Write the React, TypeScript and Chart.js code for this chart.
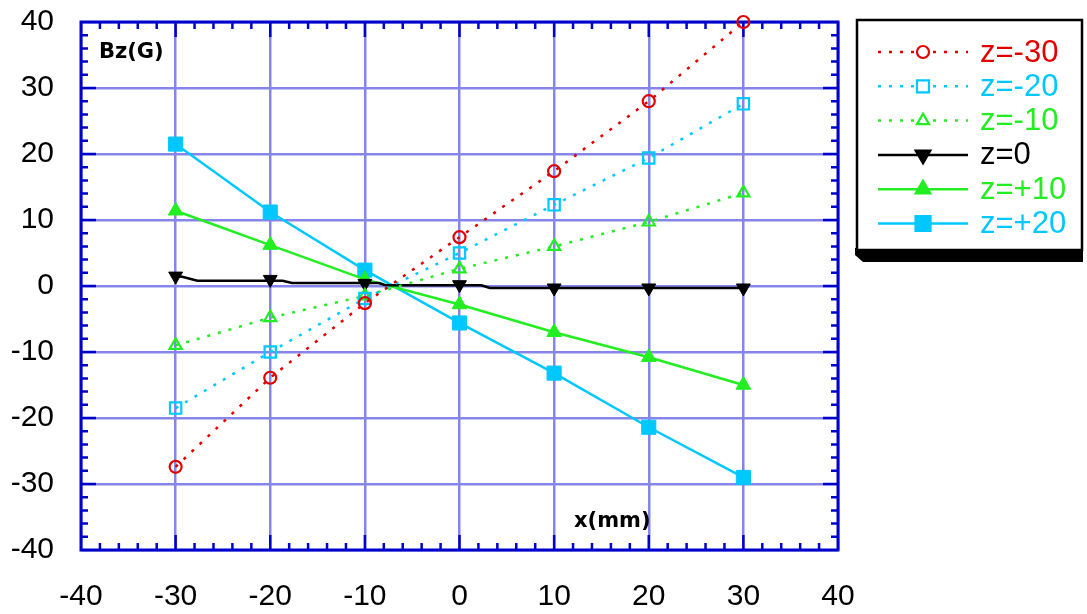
import React, { useEffect, useRef } from 'react';
import { Chart, registerables } from 'chart.js';

Chart.register(...registerables);

// ---- data ----
const xPositions = [-30, -20, -10, 0, 10, 20, 30];
const zMinus30 = [-27.4, -13.9, -2.6, 7.4, 17.4, 28, 40];
const zMinus20 = [-18.5, -10, -1.9, 5, 12.3, 19.4, 27.6];
const zMinus10 = [-9, -4.8, -1.5, 2.6, 6, 9.7, 14.1];
const zZero = [1.5, 1.0, 0.4, 0.2, -0.3, -0.3, -0.3];
const zZeroTraceX = [-30, -29.3, -27.7, -18.7, -17.7, -8.5, -7.8, 2.3, 3.2, 30];
const zZeroTraceY = [1.5, 1.4, 0.8, 0.8, 0.45, 0.45, 0.1, 0.1, -0.3, -0.3];
const zPlus10 = [11.4, 6.2, 1.0, -2.8, -7, -10.8, -15];
const zPlus20 = [21.5, 11.2, 2.4, -5.6, -13.2, -21.4, -29];
const axisTicks = [-40, -30, -20, -10, 0, 10, 20, 30, 40];
const seriesLabels = ['z=-30', 'z=-20', 'z=-10', 'z=0', 'z=+10', 'z=+20'];

const RED = '#e00000';
const CYAN = '#00c8ff';
const GREEN = '#22ee22';
const BLACK = '#000000';
const AXIS = '#0000cc';
const GRID = '#8585ea';

const pts = (ys: number[], xs: number[] = xPositions) => xs.map((x, i) => ({ x, y: ys[i] }));

type Style = { color: string; dotted: boolean; shape: string; filled: boolean };
const legendStyles: Style[] = [
  { color: RED, dotted: true, shape: 'circle', filled: false },
  { color: CYAN, dotted: true, shape: 'rect', filled: false },
  { color: GREEN, dotted: true, shape: 'triangle', filled: false },
  { color: BLACK, dotted: false, shape: 'down', filled: true },
  { color: GREEN, dotted: false, shape: 'triangle', filled: true },
  { color: CYAN, dotted: false, shape: 'rect', filled: true },
];

function drawMarker(ctx: CanvasRenderingContext2D, s: Style, x: number, y: number) {
  ctx.save();
  ctx.setLineDash([]);
  ctx.strokeStyle = s.color;
  ctx.fillStyle = s.filled ? s.color : '#ffffff';
  ctx.lineWidth = 2.2;
  ctx.beginPath();
  if (s.shape === 'circle') {
    ctx.arc(x, y, 6, 0, Math.PI * 2);
  } else if (s.shape === 'rect') {
    const h = s.filled ? 7.5 : 6;
    ctx.rect(x - h, y - h, 2 * h, 2 * h);
  } else if (s.shape === 'triangle') {
    const r = s.filled ? 8.5 : 7;
    ctx.moveTo(x, y - r);
    ctx.lineTo(x + r * 0.866, y + r * 0.5);
    ctx.lineTo(x - r * 0.866, y + r * 0.5);
    ctx.closePath();
  } else if (s.shape === 'down') {
    const r = 8.5;
    ctx.moveTo(x, y + r);
    ctx.lineTo(x + r * 0.866, y - r * 0.5);
    ctx.lineTo(x - r * 0.866, y - r * 0.5);
    ctx.closePath();
  }
  ctx.fill();
  ctx.stroke();
  ctx.restore();
}

const framePlugin = {
  id: 'frame',
  beforeDatasetsDraw(chart: any) {
    const { ctx, chartArea } = chart;
    const { left, right, top, bottom } = chartArea;
    const xs = chart.scales.x;
    const ys = chart.scales.y;
    ctx.save();
    ctx.strokeStyle = AXIS;
    ctx.lineWidth = 2.5;
    ctx.beginPath();
    for (let v = -38; v <= 38; v += 2) {
      const len = v % 10 === 0 ? 15 : 7;
      const px = xs.getPixelForValue(v);
      ctx.moveTo(px, bottom);
      ctx.lineTo(px, bottom - len);
      ctx.moveTo(px, top);
      ctx.lineTo(px, top + len);
      const py = ys.getPixelForValue(v);
      ctx.moveTo(left, py);
      ctx.lineTo(left + len, py);
      ctx.moveTo(right, py);
      ctx.lineTo(right - len, py);
    }
    ctx.stroke();
    ctx.lineWidth = 3;
    ctx.strokeRect(left, top, right - left, bottom - top);
    ctx.restore();
  },
  afterDraw(chart: any) {
    const { ctx } = chart;
    ctx.save();
    ctx.fillStyle = '#000';
    ctx.font = 'bold 21px "DejaVu Sans"';
    ctx.textBaseline = 'middle';
    ctx.textAlign = 'left';
    ctx.fillText('Bz(G)', 99, 53);
    ctx.fillText('x(mm)', 574, 522);

    // legend
    const bx = 857, by = 20, bw = 225, bh = 230;
    ctx.fillStyle = '#000';
    ctx.beginPath();
    ctx.moveTo(855, by + bh - 2);
    ctx.lineTo(bx + bw + 1, by + bh - 2);
    ctx.lineTo(bx + bw + 1, by + bh + 12);
    ctx.lineTo(863, by + bh + 12);
    ctx.lineTo(855, by + bh + 5);
    ctx.closePath();
    ctx.fill();
    ctx.fillStyle = '#fff';
    ctx.fillRect(bx, by, bw, bh);
    ctx.strokeStyle = '#000';
    ctx.lineWidth = 2.5;
    ctx.strokeRect(bx, by, bw, bh);

    ctx.font = '31px Arial, "Liberation Sans"';
    legendStyles.forEach((s, i) => {
      const ry = 52 + i * 34.3;
      ctx.save();
      ctx.strokeStyle = s.color;
      ctx.lineWidth = 2.5;
      ctx.setLineDash(s.dotted ? [3, 8] : []);
      ctx.beginPath();
      ctx.moveTo(878, ry);
      ctx.lineTo(968, ry);
      ctx.stroke();
      ctx.restore();
      drawMarker(ctx, s, 923, ry);
      ctx.fillStyle = s.color;
      ctx.fillText(seriesLabels[i], 980, ry + 1);
    });
    ctx.restore();
  },
};

export default function App() {
  const ref = useRef<HTMLCanvasElement | null>(null);
  useEffect(() => {
    document.body.style.margin = '0';
    const canvas = ref.current;
    if (!canvas) return;
    const dotted = (color: string, data: number[], style: string, radius: number) => ({
      data: pts(data),
      borderColor: color,
      backgroundColor: '#ffffff',
      borderWidth: 2.5,
      borderDash: [3, 8],
      pointStyle: style,
      pointRadius: radius,
      pointBorderWidth: 2.2,
      pointBorderColor: color,
      pointBackgroundColor: 'rgba(255,255,255,0)',
      tension: 0,
      clip: false as const,
    });
    const solid = (color: string, data: number[], style: string, radius: number, rot = 0) => ({
      data: pts(data),
      borderColor: color,
      backgroundColor: color,
      borderWidth: 2.5,
      pointStyle: style,
      pointRadius: radius,
      pointRotation: rot,
      pointBorderWidth: 1,
      pointBorderColor: color,
      pointBackgroundColor: color,
      tension: 0,
      clip: false as const,
    });
    const chart = new Chart(canvas, {
      type: 'line',
      data: {
        datasets: [
          { label: seriesLabels[0], ...dotted(RED, zMinus30, 'circle', 6) },
          { label: seriesLabels[1], ...dotted(CYAN, zMinus20, 'rect', 8) },
          { label: seriesLabels[2], ...dotted(GREEN, zMinus10, 'triangle', 7) },
          {
            label: seriesLabels[3] + ' trace',
            data: pts(zZeroTraceY, zZeroTraceX),
            borderColor: BLACK,
            borderWidth: 2.5,
            pointRadius: 0,
            tension: 0,
            clip: false as const,
          },
          { label: seriesLabels[3], ...solid(BLACK, zZero, 'triangle', 8, 180), showLine: false },
          { label: seriesLabels[4], ...solid(GREEN, zPlus10, 'triangle', 8.5) },
          { label: seriesLabels[5], ...solid(CYAN, zPlus20, 'rect', 10) },
        ] as any,
      },
      options: {
        animation: false,
        responsive: false,
        events: [],
        layout: { autoPadding: false, padding: { left: 0, top: 22, right: 249, bottom: 0 } },
        plugins: { legend: { display: false }, tooltip: { enabled: false } },
        scales: {
          x: {
            type: 'linear',
            min: -40,
            max: 40,
            afterBuildTicks: (s: any) => {
              s.ticks = axisTicks.map((v) => ({ value: v }));
            },
            afterFit: (s: any) => {
              s.height = 64;
              s.paddingLeft = 0;
              s.paddingRight = 0;
            },
            grid: { color: GRID, lineWidth: 2.5, drawTicks: false },
            border: { display: false },
            ticks: {
              color: '#000',
              padding: 29,
              maxRotation: 0,
              font: { family: 'Arial, "Liberation Sans"', size: 30 },
            },
          },
          y: {
            type: 'linear',
            min: -40,
            max: 40,
            afterBuildTicks: (s: any) => {
              s.ticks = axisTicks.map((v) => ({ value: v }));
            },
            afterFit: (s: any) => {
              s.width = 81;
              s.paddingTop = 0;
              s.paddingBottom = 0;
            },
            grid: { color: GRID, lineWidth: 2.5, drawTicks: false },
            border: { display: false },
            ticks: {
              color: '#000',
              padding: 27,
              font: { family: 'Arial, "Liberation Sans"', size: 30 },
            },
          },
        },
      },
      plugins: [framePlugin],
    });
    return () => chart.destroy();
  }, []);
  return (
    <div style={{ width: 1087, height: 614, position: 'relative' }}>
      <canvas ref={ref} width={1087} height={614} style={{ display: 'block' }} />
    </div>
  );
}
